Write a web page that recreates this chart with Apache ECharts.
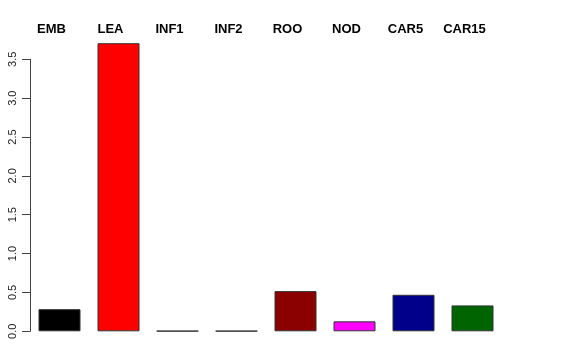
<!DOCTYPE html>
<html>
<head>
<meta charset="utf-8">
<script src="https://cdn.jsdelivr.net/npm/echarts@6/dist/echarts.min.js"></script>
<style>html,body{margin:0;padding:0;background:#fff}#c{width:576px;height:360px}</style>
</head>
<body>
<div id="c"></div>
<script>
const categories = ['EMB', 'LEA', 'INF1', 'INF2', 'ROO', 'NOD', 'CAR5', 'CAR15'];
const values = [0.285, 3.707, 0.005, 0.005, 0.517, 0.128, 0.470, 0.333];
const barColors = ['#000000', '#FF0000', '#808080', '#808080', '#8B0000', '#FF00FF', '#00008B', '#006400'];
const yTicks = [0, 0.5, 1.0, 1.5, 2.0, 2.5, 3.0, 3.5];

const chart = echarts.init(document.getElementById('c'), null, {renderer: 'canvas'});
chart.setOption({
  animation: false,
  backgroundColor: '#ffffff',
  grid: {left: 30, right: 74, top: 59.3, bottom: 28.7, containLabel: false},
  xAxis: {
    type: 'category',
    position: 'top',
    data: categories,
    axisLine: {show: false},
    axisTick: {show: false},
    splitLine: {show: false},
    axisLabel: {
      show: true,
      interval: 0,
      margin: 23,
      color: '#000',
      fontFamily: 'Liberation Sans, Arial, sans-serif',
      fontWeight: 'bold',
      fontSize: 13,
      padding: [0, 16, 0, 0]
    }
  },
  yAxis: {
    type: 'value',
    min: yTicks[0],
    max: yTicks[yTicks.length - 1],
    interval: 0.5,
    axisLine: {show: true, lineStyle: {color: '#444', width: 1}},
    axisTick: {show: true, length: 8, lineStyle: {color: '#444'}},
    splitLine: {show: false},
    axisLabel: {
      rotate: 90,
      margin: 12,
      color: '#222',
      fontFamily: 'Liberation Sans, Arial, sans-serif',
      fontSize: 11,
      formatter: v => v.toFixed(1)
    }
  },
  series: [{
    type: 'bar',
    barWidth: 42,
    clip: false,
    data: values.map((v, i) => ({
      value: v,
      itemStyle: {color: barColors[i], borderColor: '#333', borderWidth: 1}
    }))
  }]
});
</script>
</body>
</html>
